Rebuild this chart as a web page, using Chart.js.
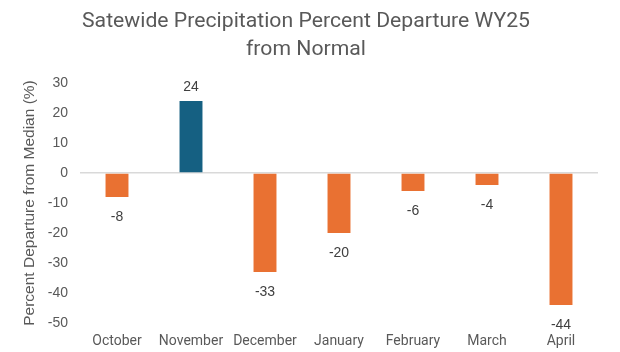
<!DOCTYPE html>
<html>
<head>
<meta charset="utf-8">
<script src="https://cdn.jsdelivr.net/npm/chart.js@4.4.1/dist/chart.umd.min.js"></script>
<style>
  html, body { margin: 0; padding: 0; background: #fff; }
  #wrap { width: 620px; height: 352px; position: relative; }
</style>
</head>
<body>
<div id="wrap"><canvas id="chart"></canvas></div>
<script>
// Monthly precipitation departure from normal, WY25
const months = ['October', 'November', 'December', 'January', 'February', 'March', 'April'];
const departures = [-8, 24, -33, -20, -6, -4, -44];
const yTicks = [30, 20, 10, 0, -10, -20, -30, -40, -50];
const titleLines = ['Satewide Precipitation Percent Departure WY25', 'from Normal'];

const ORANGE = '#E97132';
const BLUE = '#156082';
const TEXT = '#595959';

// title drawn by hand so its line baselines can be placed exactly
const chartTitle = {
  id: 'chartTitle',
  afterDraw(chart) {
    const ctx = chart.ctx;
    ctx.save();
    ctx.font = '21px Roboto, sans-serif';
    ctx.fillStyle = TEXT;
    ctx.textAlign = 'center';
    ctx.textBaseline = 'alphabetic';
    const squeeze = 448 / ctx.measureText(titleLines[0]).width;
    ctx.translate(306, 0);
    ctx.scale(squeeze, 1);
    titleLines.forEach((line, i) => ctx.fillText(line, 0, 27 + i * 28));
    ctx.restore();
  }
};

// draws the value next to each bar (above positives, below negatives)
const valueLabels = {
  id: 'valueLabels',
  afterDatasetsDraw(chart) {
    const ctx = chart.ctx;
    const meta = chart.getDatasetMeta(0);
    ctx.save();
    ctx.font = '14px "Liberation Sans", Arial, sans-serif';
    ctx.fillStyle = '#404040';
    ctx.textAlign = 'center';
    meta.data.forEach((bar, i) => {
      const v = departures[i];
      if (v >= 0) {
        ctx.textBaseline = 'bottom';
        ctx.fillText(String(v), bar.x, bar.y - 7);
      } else {
        ctx.textBaseline = 'top';
        ctx.fillText(String(v), bar.x, bar.y + 13);
      }
    });
    ctx.restore();
  }
};

new Chart(document.getElementById('chart').getContext('2d'), {
  type: 'bar',
  data: {
    labels: months,
    datasets: [{
      data: departures,
      backgroundColor: departures.map(v => v >= 0 ? BLUE : ORANGE),
      categoryPercentage: 1,
      barPercentage: 0.31
    }]
  },
  options: {
    responsive: true,
    maintainAspectRatio: false,
    animation: false,
    layout: { padding: { left: 20, right: 22, top: 83, bottom: 0 } },
    plugins: {
      legend: { display: false },
      tooltip: { enabled: false },
      title: { display: false }
    },
    scales: {
      x: {
        afterFit(axis) { axis.height = 29; },
        grid: { display: false },
        border: { display: false },
        ticks: { color: TEXT, font: { family: 'Roboto, sans-serif', size: 14 }, padding: 2 }
      },
      y: {
        min: -50,
        max: 30,
        afterBuildTicks(axis) { axis.ticks = yTicks.map(v => ({ value: v })); },
        afterFit(axis) { axis.width = 60; },
        grid: {
          drawTicks: false,
          color: ctx => ctx.tick && ctx.tick.value === 0 ? '#D9D9D9' : 'rgba(0,0,0,0)',
          lineWidth: 1.5
        },
        border: { display: false },
        ticks: { color: TEXT, font: { family: '"Liberation Sans", Arial, sans-serif', size: 14 }, padding: 12 },
        title: {
          display: true,
          text: 'Percent Departure from Median (%)',
          color: TEXT,
          font: { family: '"Liberation Sans", Arial, sans-serif', size: 15.5 },
          padding: { top: 0, bottom: 4 }
        }
      }
    }
  },
  plugins: [valueLabels, chartTitle]
});
</script>
</body>
</html>
